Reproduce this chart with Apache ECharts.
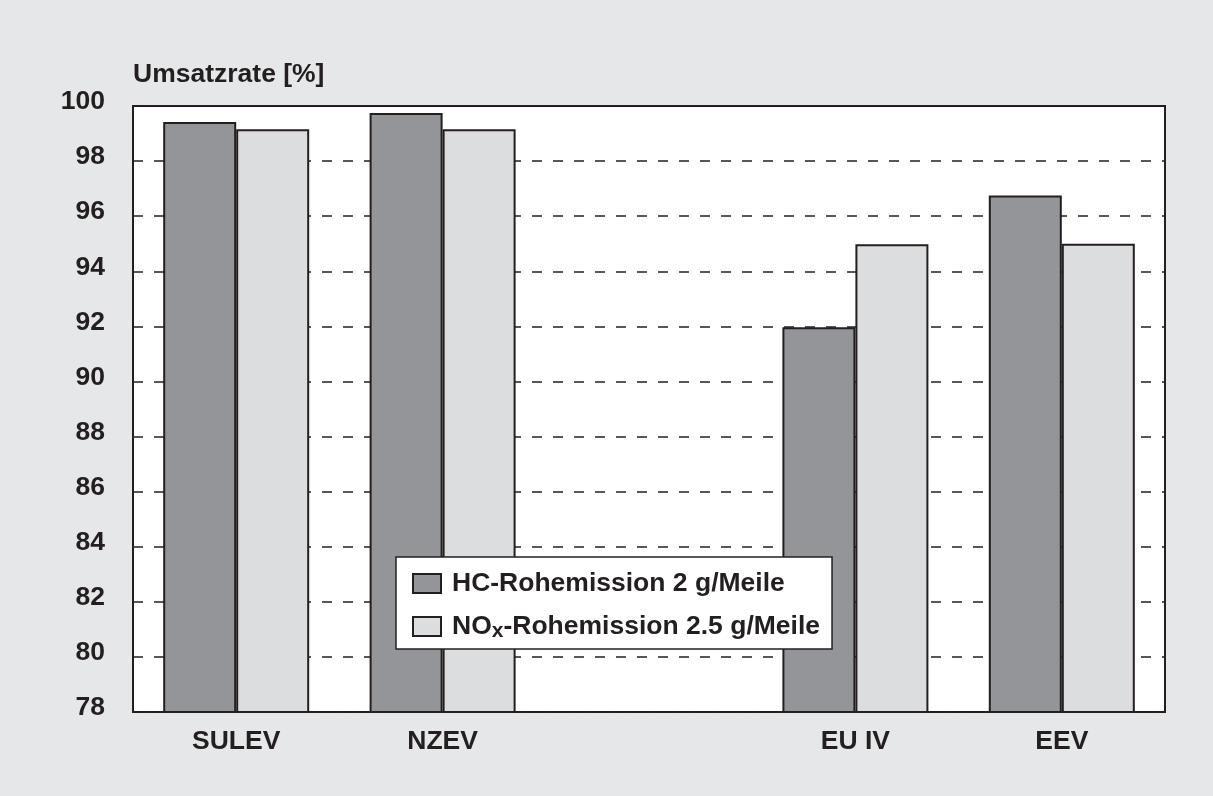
<!DOCTYPE html>
<html>
<head>
<meta charset="utf-8">
<script src="https://cdn.jsdelivr.net/npm/echarts@6/dist/echarts.min.js"></script>
<style>
  html, body { margin: 0; padding: 0; background: #e6e7e8; }
  #chart { width: 1213px; height: 796px; }
</style>
</head>
<body>
<div id="chart"></div>
<script>
const categories = ['SULEV', 'NZEV', '', 'EU IV', 'EEV'];
const seriesNames = ['HC-Rohemission 2 g/Meile', 'NOx-Rohemission 2.5 g/Meile'];
const hcValues = [99.42, 99.75, null, 91.97, 96.75];
const noxValues = [99.16, 99.16, null, 94.98, 95.0];
const yTicks = { min: 78, max: 100, interval: 2 };
const yTitle = 'Umsatzrate [%]';

const ink = '#231f20';
const font = '"Liberation Sans", Arial, sans-serif';
const fs = 26.5;

const chart = echarts.init(document.getElementById('chart'), null, { renderer: 'canvas' });
chart.setOption({
  backgroundColor: '#e6e7e8',
  animation: false,
  title: {
    text: yTitle,
    left: 133,
    top: 61,
    padding: 0,
    textStyle: { color: ink, fontFamily: font, fontWeight: 'bold', fontSize: fs }
  },
  grid: {
    left: 133, right: 48, top: 106, bottom: 84,
    show: true,
    backgroundColor: '#ffffff',
    borderColor: ink,
    borderWidth: 2
  },
  legend: {
    orient: 'vertical',
    left: 396,
    top: 557,
    padding: [11, 12, 7, 16],
    backgroundColor: '#ffffff',
    borderColor: ink,
    borderWidth: 1.5,
    itemWidth: 28,
    itemHeight: 19,
    itemGap: 12,
    icon: 'rect',
    data: seriesNames,
    formatter: function (name) {
      if (name.indexOf('NOx') === 0) {
        return 'NO{sub|x}' + name.slice(3);
      }
      return name;
    },
    textStyle: {
      color: ink, fontFamily: font, fontWeight: 'bold', fontSize: fs,
      lineHeight: 31,
      padding: [0, 0, 0, 6],
      rich: {
        sub: { color: ink, fontFamily: font, fontWeight: 'bold', fontSize: 21, lineHeight: 21, padding: [10, 0, 0, 0] }
      }
    }
  },
  xAxis: {
    type: 'category',
    data: categories,
    axisLine: { show: false },
    axisTick: { show: false },
    axisLabel: {
      color: ink, fontFamily: font, fontWeight: 'bold', fontSize: fs, margin: 16
    },
    splitLine: { show: false }
  },
  yAxis: {
    type: 'value',
    min: yTicks.min,
    max: yTicks.max,
    interval: yTicks.interval,
    axisLine: { show: false },
    axisTick: { show: false },
    axisLabel: {
      color: ink, fontFamily: font, fontWeight: 'bold', fontSize: fs, margin: 28,
      verticalAlign: 'bottom',
      lineHeight: 8
    },
    splitLine: {
      show: true,
      lineStyle: { color: ink, width: 1.7, type: [10, 11] }
    }
  },
  series: [
    {
      name: seriesNames[0],
      type: 'bar',
      data: hcValues,
      barWidth: 73,
      barGap: '0%',
      itemStyle: { color: '#939598', borderColor: ink, borderWidth: 2 }
    },
    {
      name: seriesNames[1],
      type: 'bar',
      data: noxValues,
      barWidth: 73,
      barGap: '0%',
      itemStyle: { color: '#dcdddf', borderColor: ink, borderWidth: 2 }
    }
  ]
});
</script>
</body>
</html>
